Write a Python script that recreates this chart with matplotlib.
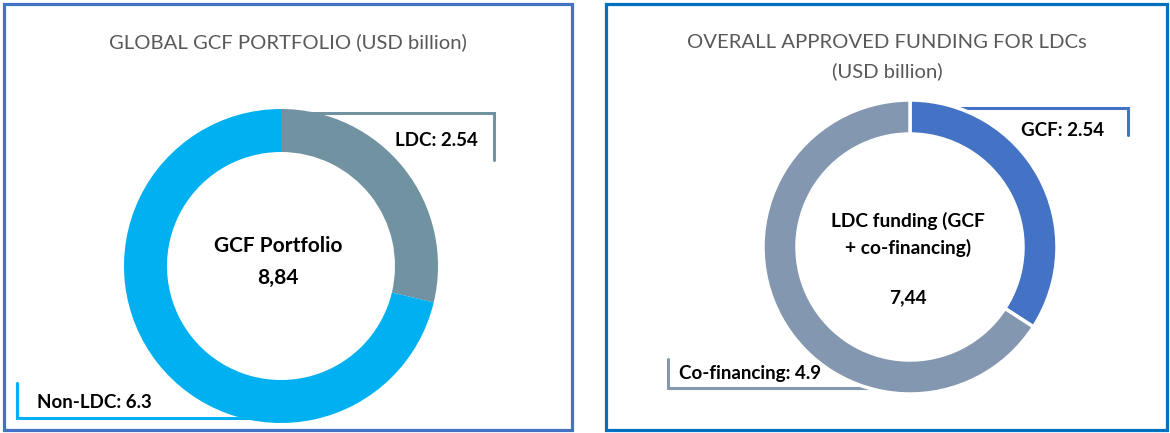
import matplotlib.pyplot as plt
from matplotlib.patches import Rectangle

plt.rcParams['font.family'] = ['Lato', 'DejaVu Sans']

W, H = 1170, 433

# data
global_labels = ['LDC', 'Non-LDC']
global_values = [2.54, 6.3]
global_total = '8,84'
ldc_labels = ['GCF', 'Co-financing']
ldc_values = [2.54, 4.9]
ldc_total = '7,44'

global_colors = ['#7092A1', '#00B0F0']
ldc_colors = ['#4472C4', '#8497B0']


def py(y):
    # pixel row -> data y (origin at the bottom)
    return H - y


fig = plt.figure(figsize=(W / 100, H / 100), dpi=100)
ax = fig.add_axes([0, 0, 1, 1])

# panel frames
ax.add_patch(Rectangle((4, py(430)), 568, 426, fill=False, ec='#4472C4', lw=2.3))
ax.add_patch(Rectangle((606, py(430)), 561, 426, fill=False, ec='#0070C0', lw=2.3))

# left donut: global portfolio
ax.pie(global_values, colors=global_colors, startangle=90, counterclock=False,
       radius=157, center=(281, py(266)), frame=True,
       wedgeprops=dict(width=43, linewidth=0))

# right donut: LDC funding
ax.pie(ldc_values, colors=ldc_colors, startangle=90, counterclock=False,
       radius=147, center=(910, py(247)), frame=True,
       wedgeprops=dict(width=34, edgecolor='white', linewidth=2.5))

# callout brackets (drawn under the rings)
line_kw = dict(lw=2.2, zorder=0.5, solid_capstyle='round', solid_joinstyle='miter')
ax.plot([290, 494, 494], [py(113), py(113), py(160)], color=global_colors[0], **line_kw)
ax.plot([17, 17, 270], [py(383), py(418), py(418)], color=global_colors[1], **line_kw)
ax.plot([930, 1128, 1128], [py(108), py(108), py(135)], color=ldc_colors[0], **line_kw)
ax.plot([668, 668, 880], [py(359), py(388), py(388)], color=ldc_colors[1], **line_kw)

lab_kw = dict(ha='left', va='center', fontweight='bold', fontsize=13.5, color='black')
ax.text(395, py(140), f'{global_labels[0]}: {global_values[0]}', **lab_kw)
ax.text(37, py(402), f'{global_labels[1]}: {global_values[1]}', **lab_kw)
ax.text(1021, py(131), f'{ldc_labels[0]}: {ldc_values[0]}', **lab_kw)
ax.text(679, py(373), f'{ldc_labels[1]}: {ldc_values[1]}', **lab_kw)

# centre texts
mid_kw = dict(ha='center', va='center', fontweight='bold', fontsize=15)
ax.text(278, py(246), 'GCF Portfolio', **mid_kw)
ax.text(278, py(278), global_total, **mid_kw)
ax.text(908, py(221), 'LDC funding (GCF', fontsize=13.8, ha='center', va='center', fontweight='bold')
ax.text(908, py(248), '+ co-financing)', fontsize=13.8, ha='center', va='center', fontweight='bold')
ax.text(908, py(298), ldc_total, fontsize=13.8, ha='center', va='center', fontweight='bold')

# titles
title_kw = dict(ha='center', va='center', color='#595959', fontsize=14.6)
ax.text(288, py(42), 'GLOBAL GCF PORTFOLIO (USD billion)', **title_kw)
ax.text(887, py(42), 'OVERALL APPROVED FUNDING FOR LDCs', **title_kw)
ax.text(887, py(71), '(USD billion)', **title_kw)

ax.set_xlim(0, W)
ax.set_ylim(0, H)
ax.set_aspect('auto')
ax.axis('off')

fig.savefig('out.png', dpi=100)
